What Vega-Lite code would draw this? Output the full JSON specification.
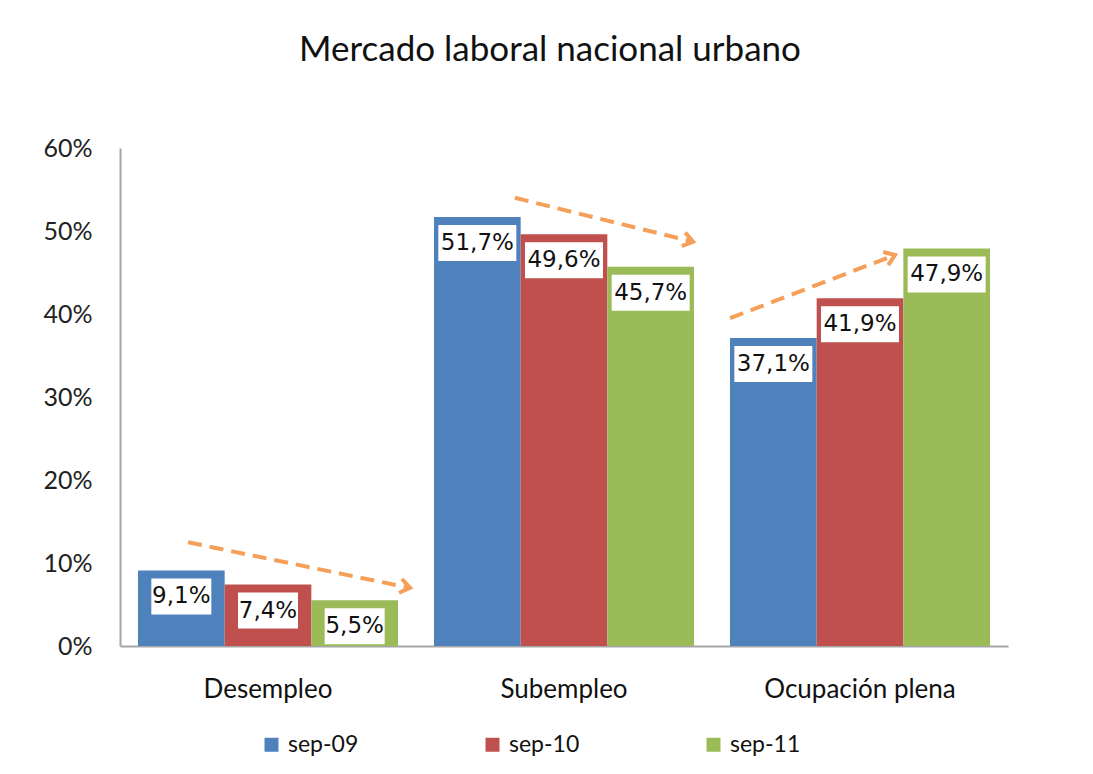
{
  "$schema": "https://vega.github.io/schema/vega-lite/v6.json",
  "autosize": "none",
  "width": 888,
  "height": 498,
  "padding": {"left": 120, "top": 148, "right": 85, "bottom": 128},
  "background": "white",
  "title": {
    "text": "Mercado laboral nacional urbano",
    "font": "Lato",
    "fontSize": 35,
    "fontWeight": "normal",
    "color": "#111111",
    "anchor": "middle",
    "frame": "group",
    "offset": 68,
    "dx": -14
  },
  "datasets": {
    "bars": [
      {"cat": "Desempleo", "serie": "sep-09", "value": 0.091},
      {"cat": "Desempleo", "serie": "sep-10", "value": 0.074},
      {"cat": "Desempleo", "serie": "sep-11", "value": 0.055},
      {"cat": "Subempleo", "serie": "sep-09", "value": 0.517},
      {"cat": "Subempleo", "serie": "sep-10", "value": 0.496},
      {"cat": "Subempleo", "serie": "sep-11", "value": 0.457},
      {"cat": "Ocupación plena", "serie": "sep-09", "value": 0.371},
      {"cat": "Ocupación plena", "serie": "sep-10", "value": 0.419},
      {"cat": "Ocupación plena", "serie": "sep-11", "value": 0.479}
    ],
    "arrows": [
      {"arrow": "Desempleo", "point": "start", "pos": 0.23, "value": 0.125},
      {"arrow": "Desempleo", "point": "end", "pos": 0.98, "value": 0.070},
      {"arrow": "Subempleo", "point": "start", "pos": 1.334, "value": 0.540},
      {"arrow": "Subempleo", "point": "end", "pos": 1.936, "value": 0.487},
      {"arrow": "Ocupación plena", "point": "start", "pos": 2.061, "value": 0.395},
      {"arrow": "Ocupación plena", "point": "end", "pos": 2.618, "value": 0.471}
    ]
  },
  "layer": [
    {
      "data": {"name": "bars"},
      "encoding": {
        "x": {
          "field": "cat",
          "type": "nominal",
          "sort": ["Desempleo", "Subempleo", "Ocupación plena"],
          "scale": {"domain": ["Desempleo", "Subempleo", "Ocupación plena"], "paddingInner": 0.1216, "paddingOuter": 0.0608},
          "axis": {
            "title": null,
            "labelAngle": 0,
            "labelFont": "Lato",
            "labelFontSize": 26,
            "labelColor": "#111111",
            "labelPadding": 30,
            "labelLimit": 0,
            "ticks": false,
            "domainColor": "#A6A6A6",
            "domainWidth": 2
          }
        },
        "xOffset": {"field": "serie", "type": "nominal", "scale": {"domain": ["sep-09", "sep-10", "sep-11"], "paddingInner": 0, "paddingOuter": 0}},
        "y": {
          "field": "value",
          "type": "quantitative",
          "scale": {"domain": [0, 0.6], "nice": false},
          "axis": {
            "title": null,
            "format": ".0%",
            "values": [0, 0.1, 0.2, 0.3, 0.4, 0.5, 0.6],
            "grid": false,
            "ticks": false,
            "labelFont": "Lato",
            "labelFontSize": 25,
            "labelColor": "#222222",
            "labelPadding": 28,
            "domainColor": "#A6A6A6",
            "domainWidth": 2
          }
        }
      },
      "layer": [
        {
          "mark": {"type": "bar"},
          "encoding": {
            "color": {
              "field": "serie",
              "type": "nominal",
              "scale": {"domain": ["sep-09", "sep-10", "sep-11"], "range": ["#4F81BD", "#C0504D", "#9BBB59"]},
              "legend": {
                "title": null,
                "orient": "none",
                "direction": "horizontal",
                "legendX": 140,
                "legendY": 585,
                "symbolType": "square",
                "symbolSize": 196,
                "symbolStrokeWidth": 0,
                "labelFont": "Lato",
                "labelFontSize": 23,
                "labelColor": "#111111",
                "labelOffset": 5,
                "columnPadding": 122,
                "gridAlign": "all"
              }
            }
          }
        },
        {
          "transform": [{"filter": "datum.value < 0.1"}],
          "mark": {"type": "rect", "fill": "white", "width": 60, "yOffset": 8, "y2Offset": 44},
          "encoding": {"y2": {"field": "value"}}
        },
        {
          "transform": [{"filter": "datum.value >= 0.1"}],
          "mark": {"type": "rect", "fill": "white", "width": 78, "yOffset": 8, "y2Offset": 44},
          "encoding": {"y2": {"field": "value"}}
        },
        {
          "mark": {"type": "text", "font": "DejaVu Sans", "fontSize": 23, "color": "#111111", "baseline": "middle", "align": "center", "dy": 26},
          "encoding": {"text": {"field": "value", "type": "quantitative", "format": ".1%"}}
        }
      ]
    },
    {
      "data": {"name": "arrows"},
      "encoding": {
        "x": {"field": "pos", "type": "quantitative", "scale": {"domain": [0, 3], "nice": false, "zero": false}, "axis": null},
        "y": {"field": "value", "type": "quantitative"}
      },
      "layer": [
        {
          "mark": {"type": "line", "stroke": "#F5A05A", "strokeWidth": 4, "strokeDash": [14, 8]},
          "encoding": {"detail": {"field": "arrow"}}
        },
        {
          "transform": [{"filter": "datum.point == 'end' && datum.arrow == 'Desempleo'"}],
          "mark": {"type": "point", "shape": "M-1.4,-1L0,0L-1.4,1", "size": 196, "filled": false, "stroke": "#F5A05A", "strokeWidth": 4, "opacity": 1, "angle": 12}
        },
        {
          "transform": [{"filter": "datum.point == 'end' && datum.arrow == 'Subempleo'"}],
          "mark": {"type": "point", "shape": "M-1.4,-1L0,0L-1.4,1", "size": 196, "filled": false, "stroke": "#F5A05A", "strokeWidth": 4, "opacity": 1, "angle": 14}
        },
        {
          "transform": [{"filter": "datum.point == 'end' && datum.arrow == 'Ocupación plena'"}],
          "mark": {"type": "point", "shape": "M-1.4,-1L0,0L-1.4,1", "size": 196, "filled": false, "stroke": "#F5A05A", "strokeWidth": 4, "opacity": 1, "angle": 339}
        }
      ]
    }
  ],
  "resolve": {"scale": {"x": "independent"}, "axis": {"x": "independent"}},
  "config": {
    "view": {"stroke": null},
    "locale": {"number": {"decimal": ",", "thousands": ".", "grouping": [3], "currency": ["", " €"]}}
  }
}
